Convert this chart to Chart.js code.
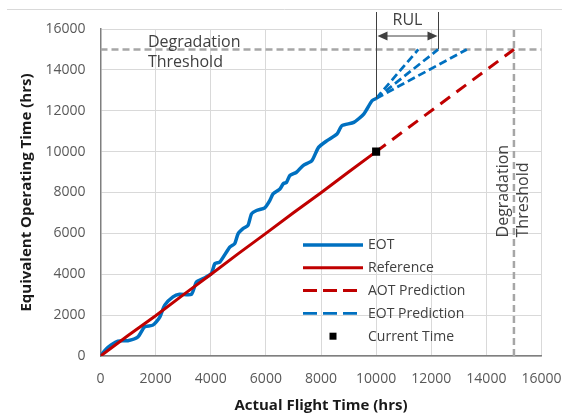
<!DOCTYPE html>
<html>
<head>
<meta charset="utf-8">
<script src="https://cdn.jsdelivr.net/npm/chart.js@4.4.1/dist/chart.umd.min.js"></script>
<style>
  html, body { margin: 0; padding: 0; background: #fff; }
  #wrap { width: 562px; height: 418px; }
</style>
</head>
<body>
<div id="wrap"><canvas id="chart" width="562" height="418"></canvas></div>
<script>
// actual flight time (x) vs equivalent operating time (y), both in hrs
const eotX = [0, 200, 385, 630, 990, 1360, 1600, 1900, 2145, 2330, 2630, 2870, 3300, 3480, 3750, 4020, 4150, 4330, 4690, 4870, 4990, 5170, 5350, 5480, 5660, 5960, 6140, 6260, 6510, 6630, 6750, 6870, 7110, 7350, 7670, 7910, 8220, 8580, 8760, 9190, 9550, 9850, 10000]
const eotY = [0, 330, 540, 730, 750, 940, 1430, 1510, 1890, 2490, 2890, 3020, 3020, 3620, 3800, 4030, 4520, 4600, 5330, 5500, 5980, 6230, 6390, 6960, 7120, 7250, 7600, 7930, 8170, 8430, 8500, 8830, 8990, 9320, 9560, 10210, 10540, 10860, 11270, 11430, 11840, 12490, 12600]

const refX = [0, 1000, 2000, 3000, 4000, 5000, 6000, 7000, 8000, 9000, 10000]
const refY = [0, 1000, 1970, 2990, 3990, 5010, 6000, 7010, 7990, 9000, 10000]

const aotPredX = [10000, 15000]
const aotPredY = [10000, 15000]

const eotPredStartX = 10000
const eotPredStartY = 12600
const eotPredEndX = [11530, 12250, 13290]

const thresholdHours = 15000
const currentTime = { x: 10000, y: 10000 }
const rulRange = [10000, 12250]

const xTicks = [0, 2000, 4000, 6000, 8000, 10000, 12000, 14000, 16000]
const yTicks = [0, 2000, 4000, 6000, 8000, 10000, 12000, 14000, 16000]

const legendLabels = ["EOT", "Reference", "AOT Prediction", "EOT Prediction", "Current Time"]

const BLUE = "#0070c0"
const RED = "#c00000"
const GRAY = "#a6a6a6"
const TEXT = "#404040"
const FONT = "'Open Sans', 'DejaVu Sans', sans-serif"

const pts = (xs, ys) => xs.map((x, i) => ({ x, y: ys[i] }))

const lineSet = (label, data, color, width, dash) => ({
  label,
  data,
  showLine: true,
  borderColor: color,
  backgroundColor: color,
  borderWidth: width,
  borderDash: dash || [],
  pointRadius: 0,
  pointHoverRadius: 0,
  tension: 0,
  fill: false,
})

// first dataset is drawn on top
const datasets = [
  {
    label: "Current Time",
    data: [currentTime],
    showLine: false,
    pointStyle: "rect",
    pointRadius: 5.7,
    backgroundColor: "#000",
    borderColor: "#000",
    borderWidth: 0,
  },
  lineSet("AOT Prediction", pts(aotPredX, aotPredY), RED, 3, [12, 8]),
  lineSet("Reference", pts(refX, refY), RED, 3),
  Object.assign(lineSet("EOT", pts(eotX, eotY), BLUE, 3.5), { tension: 0.2 }),
]
eotPredEndX.forEach((endX) => {
  datasets.push(lineSet("EOT Prediction", [{ x: eotPredStartX, y: eotPredStartY }, { x: endX, y: thresholdHours }], BLUE, 2.75, [8, 4]))
})
datasets.push(lineSet("Threshold", [{ x: 0, y: thresholdHours }, { x: 16000, y: thresholdHours }], GRAY, 2.5, [7, 4]))
datasets.push(lineSet("Threshold", [{ x: thresholdHours, y: 0 }, { x: thresholdHours, y: 16000 }], GRAY, 2.5, [7, 4]))

// legend inside the plot, drawn from the dataset styles
const legendPlugin = {
  id: "insideLegend",
  afterDraw(chart) {
    const ctx = chart.ctx
    const x0 = 303
    const y0 = 245
    const gap = 22.8
    ctx.save()
    ctx.font = "14px " + FONT
    ctx.textBaseline = "middle"
    ctx.textAlign = "left"
    legendLabels.forEach((label, i) => {
      const ds = chart.data.datasets.find((d) => d.label === label)
      const y = y0 + i * gap
      if (ds.showLine) {
        ctx.strokeStyle = ds.borderColor
        ctx.lineWidth = ds.borderWidth
        ctx.setLineDash(ds.borderDash.length ? [14, 6] : [])
        ctx.beginPath()
        ctx.moveTo(x0, y)
        ctx.lineTo(x0 + 60, y)
        ctx.stroke()
        ctx.setLineDash([])
      } else {
        ctx.fillStyle = ds.backgroundColor
        ctx.fillRect(x0 + 30 - 3.5, y - 3.5, 7, 7)
      }
      ctx.fillStyle = TEXT
      ctx.fillText(label, x0 + 65, y + 0.5)
    })
    ctx.restore()
  },
}

// threshold labels, RUL bracket and the frame line on top
const notesPlugin = {
  id: "notes",
  beforeDraw(chart) {
    const ctx = chart.ctx
    ctx.save()
    ctx.strokeStyle = "#d9d9d9"
    ctx.lineWidth = 1
    ctx.beginPath()
    ctx.moveTo(7, 9.5)
    ctx.lineTo(562, 9.5)
    ctx.stroke()
    ctx.restore()
  },
  afterDraw(chart) {
    const { ctx, scales } = chart
    const xs = scales.x
    const ys = scales.y
    const thY = ys.getPixelForValue(thresholdHours)
    const thX = xs.getPixelForValue(thresholdHours)
    ctx.save()
    ctx.fillStyle = TEXT
    ctx.font = "16px " + FONT
    ctx.textAlign = "left"
    ctx.textBaseline = "alphabetic"
    ctx.fillText("Degradation", xs.getPixelForValue(1720), thY - 2.5)
    ctx.fillText("Threshold", xs.getPixelForValue(1720), thY + 17.5)

    const startY = ys.getPixelForValue(5800)
    ;[["Degradation", thX - 5.5], ["Threshold", thX + 14.5]].forEach(([t, bx]) => {
      ctx.save()
      ctx.translate(bx, startY)
      ctx.rotate(-Math.PI / 2)
      ctx.fillText(t, 0, 0)
      ctx.restore()
    })

    // RUL bracket
    const lx = Math.round(xs.getPixelForValue(rulRange[0])) + 0.5
    const rx = Math.round(xs.getPixelForValue(rulRange[1])) + 0.5
    const topY = 12
    const arrowY = 36
    ctx.strokeStyle = TEXT
    ctx.lineWidth = 1
    ctx.beginPath()
    ctx.moveTo(lx, ys.getPixelForValue(eotPredStartY))
    ctx.lineTo(lx, topY)
    ctx.moveTo(rx, thY)
    ctx.lineTo(rx, topY)
    ctx.moveTo(lx + 8, arrowY)
    ctx.lineTo(rx - 8, arrowY)
    ctx.stroke()
    ctx.beginPath()
    ctx.moveTo(lx + 1, arrowY)
    ctx.lineTo(lx + 11, arrowY - 4.5)
    ctx.lineTo(lx + 11, arrowY + 4.5)
    ctx.closePath()
    ctx.moveTo(rx - 1, arrowY)
    ctx.lineTo(rx - 11, arrowY - 4.5)
    ctx.lineTo(rx - 11, arrowY + 4.5)
    ctx.closePath()
    ctx.fill()
    ctx.textAlign = "center"
    ctx.textBaseline = "middle"
    ctx.fillText("RUL", (lx + rx) / 2, 20)
    ctx.restore()
  },
}

const tickFont = { family: FONT, size: 14 }
const titleFont = { family: FONT, size: 15, weight: "bold" }

new Chart(document.getElementById("chart"), {
  type: "scatter",
  data: { datasets },
  options: {
    responsive: false,
    animation: false,
    events: [],
    layout: { padding: { top: 29, right: 20.5, left: 0, bottom: 0 } },
    plugins: {
      legend: { display: false },
      tooltip: { enabled: false },
    },
    scales: {
      x: {
        type: "linear",
        min: 0,
        max: 16000,
        afterBuildTicks: (s) => { s.ticks = xTicks.map((v) => ({ value: v })) },
        afterFit: (s) => {
          s.height = 62
          s.paddingLeft = 0
          s.paddingRight = 0
        },
        ticks: { color: "#595959", font: tickFont, padding: 15, maxRotation: 0, callback: (v) => String(v) },
        grid: { color: "#d9d9d9", lineWidth: 1, drawTicks: false },
        border: { color: "#7f7f7f", width: 1.5 },
        title: { display: true, text: "Actual Flight Time (hrs)", color: "#1a1a1a", font: titleFont, padding: { top: 0, bottom: 3 } },
      },
      y: {
        type: "linear",
        min: 0,
        max: 16000,
        afterBuildTicks: (s) => { s.ticks = yTicks.map((v) => ({ value: v })) },
        afterFit: (s) => {
          s.width = 100.5
          s.paddingTop = 0
          s.paddingBottom = 0
        },
        ticks: { color: "#595959", font: tickFont, padding: 15, callback: (v) => String(v) },
        grid: { color: "#d9d9d9", lineWidth: 1, drawTicks: false },
        border: { color: "#7f7f7f", width: 1.5 },
        title: { display: true, text: "Equivalent Operating Time (hrs)", color: "#1a1a1a", font: titleFont, padding: { top: 18, bottom: 0 } },
      },
    },
  },
  plugins: [legendPlugin, notesPlugin],
})
</script>
</body>
</html>
